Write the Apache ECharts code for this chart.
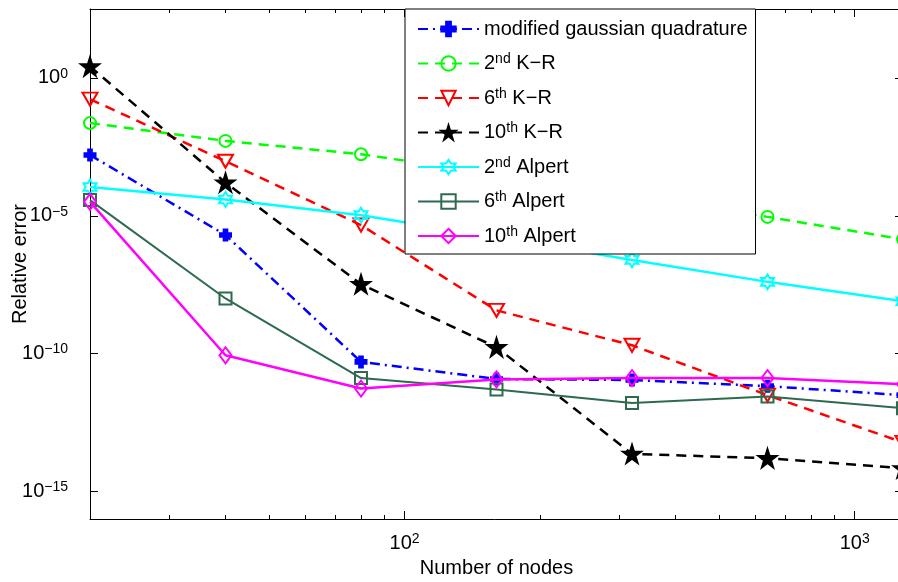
<!DOCTYPE html>
<html>
<head>
<meta charset="utf-8">
<script src="https://cdn.jsdelivr.net/npm/echarts@6/dist/echarts.min.js"></script>
<style>
    html, body { margin: 0; padding: 0; background: #fff; }
    #chart { width: 898px; height: 582px; }
</style>
</head>
<body>
<div id="chart"></div>
<script>
// number of nodes and relative errors
const nodes = [20, 40, 80, 160, 320, 640, 1280];
const gaussErr = [1.6e-3, 2.0e-6, 5.0e-11, 1.2e-11, 1.1e-11, 6.6e-12, 3.1e-12];
const kr2Err = [2.3e-2, 5.2e-3, 1.7e-3, 3.2e-4, 5.6e-5, 9.1e-6, 1.4e-6];
const kr6Err = [0.17, 9.5e-4, 4.6e-6, 3.7e-9, 2.0e-10, 3.1e-12, 6.0e-14];
const kr10Err = [2.6, 1.6e-4, 3.3e-8, 1.7e-10, 2.3e-14, 1.6e-14, 6.9e-15];
const alpert2Err = [1.1e-4, 3.9e-5, 1.05e-5, 1.7e-6, 2.5e-7, 4.0e-8, 7.9e-9];
const alpert6Err = [3.7e-5, 1.0e-8, 1.3e-11, 5.0e-12, 1.6e-12, 2.8e-12, 1.05e-12];
const alpert10Err = [3.2e-5, 8.7e-11, 5.4e-12, 1.15e-11, 1.3e-11, 1.3e-11, 7.8e-12];

const names = ['modified gaussian quadrature', '2nd K-R', '6th K-R', '10th K-R',
    '2nd Alpert', '6th Alpert', '10th Alpert'];

const xMajorTicks = [100, 1000];
const xMinorTicks = [30, 40, 50, 60, 70, 80, 90, 200, 300, 400, 500, 600, 700, 800, 900];
const yMajorTicks = [1e-15, 1e-10, 1e-5, 1];
const xRange = [20, 1280];
const yRange = [1e-16, Math.pow(10, 2.5)];

const FONT = '"Liberation Sans", Arial, Helvetica, sans-serif';
const lg = Math.log10;

const rich = {
    b: { fontSize: 20, fontFamily: FONT, color: '#000', lineHeight: 22, padding: [6, 0, 6, 0] },
    s: { fontSize: 14, fontFamily: FONT, color: '#000', lineHeight: 16, verticalAlign: 'top' },
};

// 10^k labels with a real superscript
const powLabel = v => {
    const k = Math.round(v);
    return `{b|10}{s|${k < 0 ? '\u2212' + -k : k}}`;
};

const legendLabel = name => {
    const m = name.match(/^(\d+)(nd|th) (.*)$/);
    if (!m) return `{b|${name}}`;
    return `{b|${m[1]}}{s|${m[2]}}{b| ${m[3].replace('-', '\u2212')}}`;
};

const starPath = 'path://M0,-10 L2.245,-3.09 L9.511,-3.09 L3.633,1.18 L5.878,8.09 L0,3.82 L-5.878,8.09 L-3.633,1.18 L-9.511,-3.09 L-2.245,-3.09 Z';
const hexPath = 'path://M0,-10 L2.89,-5 L8.66,-5 L5.77,0 L8.66,5 L2.89,5 L0,10 L-2.89,5 L-8.66,5 L-5.77,0 L-8.66,-5 L-2.89,-5 Z';
const plusPath = 'path://M-2,-6 L2,-6 L2,-2 L6,-2 L6,2 L2,2 L2,6 L-2,6 L-2,2 L-6,2 L-6,-2 L-2,-2 Z';

const styles = [
    { color: '#0000ff', type: [10, 5, 2, 5], symbol: plusPath, size: 11, fill: '#0000ff', width: 2.5 },
    { color: '#00ff00', type: [10, 7], symbol: 'circle', size: 12, fill: 'rgba(0,0,0,0)', width: 2.5 },
    { color: '#ff0000', type: [10, 7], symbol: 'triangle', size: [15, 13], fill: 'rgba(0,0,0,0)', rotate: 180, width: 2.5 },
    { color: '#000000', type: [10, 7], symbol: starPath, size: 18, fill: '#000000', width: 2.5 },
    { color: '#00ffff', type: 'solid', symbol: hexPath, size: [13, 15], fill: 'rgba(0,0,0,0)', width: 2.5 },
    { color: '#2e6b4e', type: 'solid', symbol: 'rect', size: 12, fill: 'rgba(0,0,0,0)', width: 2 },
    { color: '#ff00ff', type: 'solid', symbol: 'diamond', size: [12, 16], fill: 'rgba(0,0,0,0)', width: 2.5 },
];
const values = [gaussErr, kr2Err, kr6Err, kr10Err, alpert2Err, alpert6Err, alpert10Err];

const series = names.map((name, i) => {
    const st = styles[i];
    return {
        name,
        type: 'line',
        data: nodes.map((n, j) => [lg(n), lg(values[i][j])]),
        symbol: st.symbol,
        symbolSize: st.size,
        symbolRotate: st.rotate || 0,
        lineStyle: { color: st.color, width: st.width, type: st.type },
        itemStyle: { color: st.fill, borderColor: st.color, borderWidth: 2 },
        emphasis: { disabled: true },
        z: 2 + i * 0.01,
    };
});

const blackLine = { show: true, onZero: false, lineStyle: { color: '#000', width: 1 } };
const noLine = { show: false, onZero: false };
const tickStyle = { color: '#000', width: 1 };

const xBase = {
    type: 'value',
    min: lg(xRange[0]),
    max: lg(xRange[1]),
    splitLine: { show: false },
};
const yBase = {
    type: 'value',
    min: lg(yRange[0]),
    max: lg(yRange[1]),
    splitLine: { show: false },
};

const option = {
    animation: false,
    backgroundColor: '#fff',
    grid: { left: 90, top: 9, width: 813, height: 510, outerBoundsMode: 'none', containLabel: false },
    xAxis: [
        {
            ...xBase,
            position: 'bottom',
            axisLine: blackLine,
            axisTick: { inside: true, length: 8, lineStyle: tickStyle, customValues: xMajorTicks.map(lg) },
            axisLabel: { margin: 13, customValues: xMajorTicks.map(lg), formatter: powLabel, rich },
            name: 'Number of nodes',
            nameLocation: 'middle',
            nameGap: 39,
            nameMoveOverlap: false,
            nameTextStyle: { fontSize: 20, fontFamily: FONT, color: '#000' },
        },
        {
            ...xBase,
            position: 'bottom',
            axisLine: noLine,
            axisTick: { inside: true, length: 4, lineStyle: tickStyle, customValues: xMinorTicks.map(lg) },
            axisLabel: { show: false },
        },
        {
            ...xBase,
            position: 'top',
            axisLine: blackLine,
            axisTick: { inside: true, length: 8, lineStyle: tickStyle, customValues: xMajorTicks.map(lg) },
            axisLabel: { show: false },
        },
        {
            ...xBase,
            position: 'top',
            axisLine: noLine,
            axisTick: { inside: true, length: 4, lineStyle: tickStyle, customValues: xMinorTicks.map(lg) },
            axisLabel: { show: false },
        },
    ],
    yAxis: [
        {
            ...yBase,
            position: 'left',
            axisLine: blackLine,
            axisTick: { inside: true, length: 8, lineStyle: tickStyle, customValues: yMajorTicks.map(lg) },
            axisLabel: { margin: 22, customValues: yMajorTicks.map(lg), formatter: powLabel, rich },
            name: 'Relative error',
            nameLocation: 'middle',
            nameGap: 60,
            nameMoveOverlap: false,
            nameTextStyle: { fontSize: 20, fontFamily: FONT, color: '#000' },
        },
        {
            ...yBase,
            position: 'right',
            axisLine: blackLine,
            axisTick: { inside: true, length: 8, lineStyle: tickStyle, customValues: yMajorTicks.map(lg) },
            axisLabel: { show: false },
        },
    ],
    legend: {
        data: names,
        orient: 'vertical',
        left: 405,
        top: 9,
        padding: [4, 8, 2, 12],
        itemGap: 2.5,
        itemWidth: 61,
        itemHeight: 18,
        backgroundColor: '#fff',
        borderColor: '#000',
        borderWidth: 1,
        borderRadius: 0,
        selectedMode: false,
        itemStyle: { borderWidth: 2 },
        formatter: legendLabel,
        textStyle: { fontSize: 20, fontFamily: FONT, color: '#000', rich },
    },
    series,
};

const chart = echarts.init(document.getElementById('chart'));
chart.setOption(option);
</script>
</body>
</html>
